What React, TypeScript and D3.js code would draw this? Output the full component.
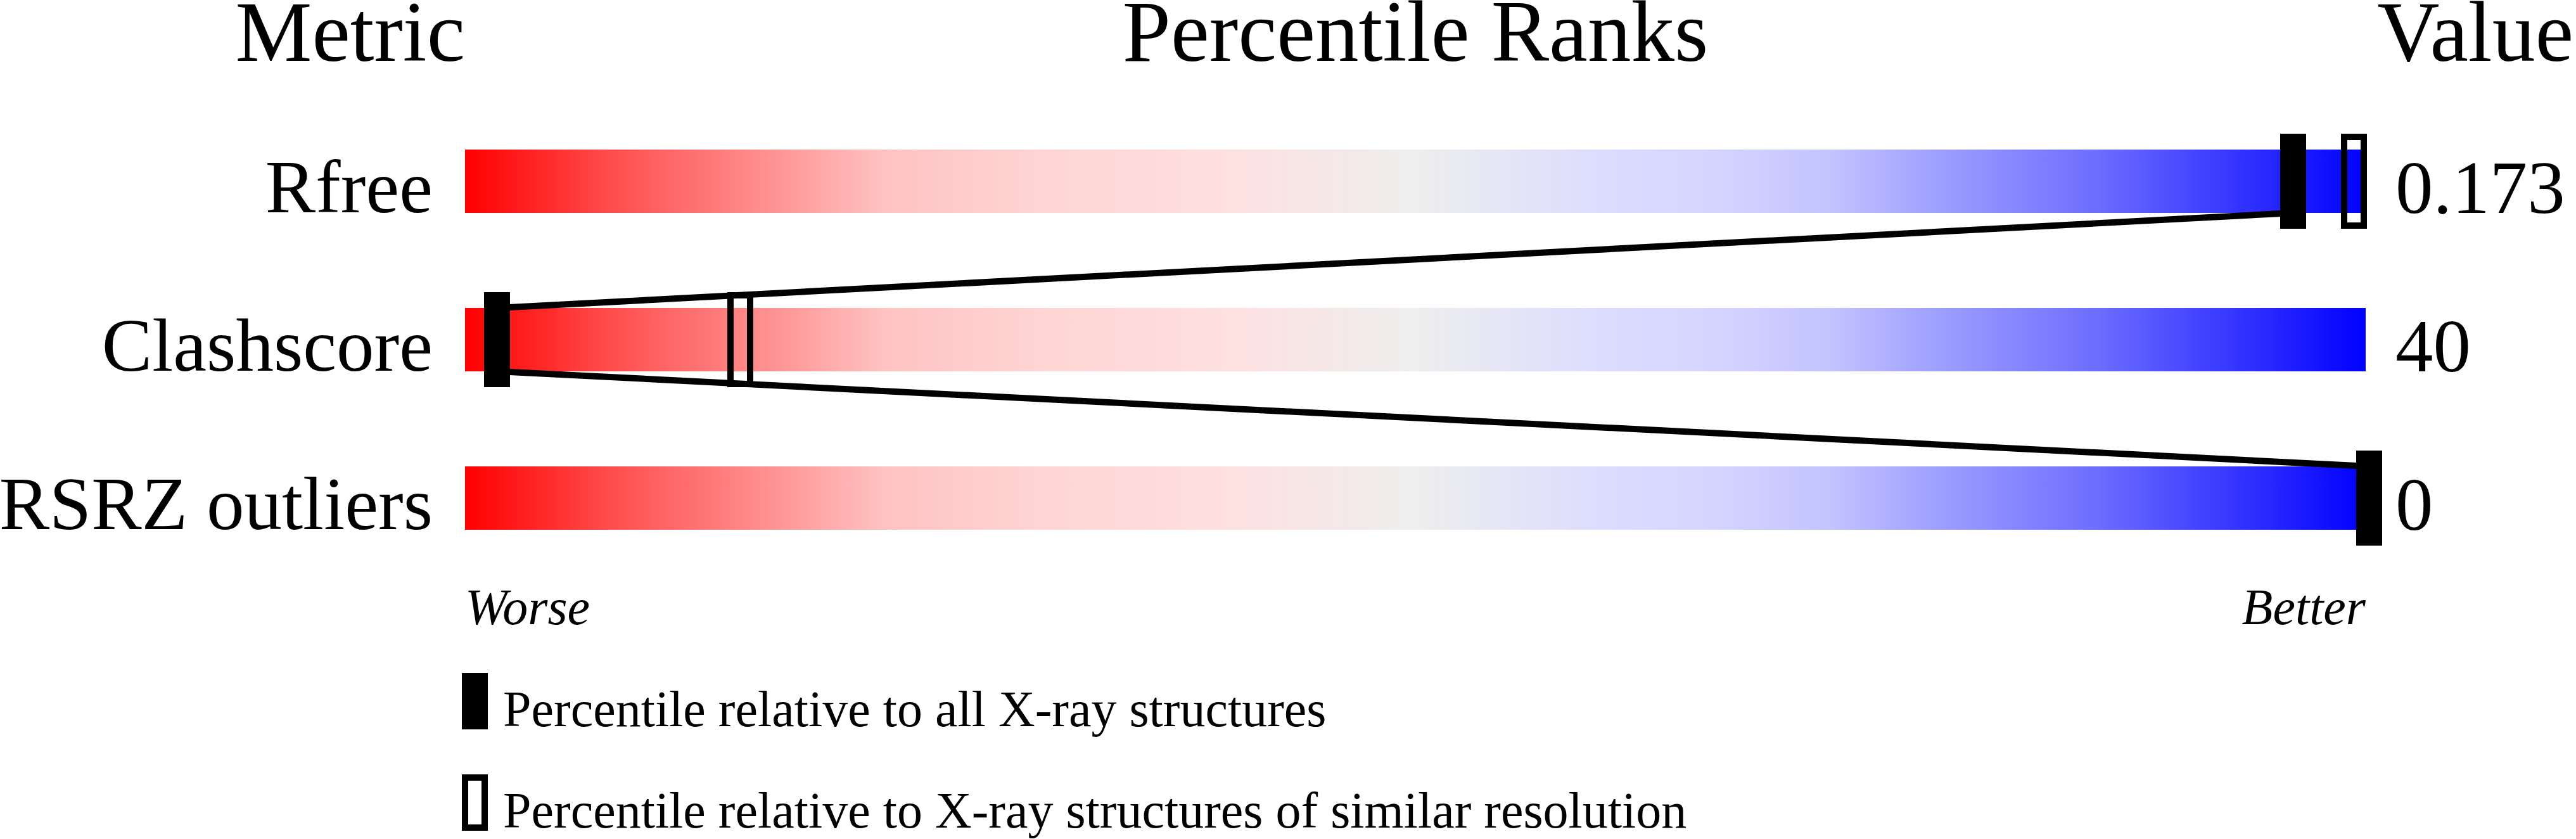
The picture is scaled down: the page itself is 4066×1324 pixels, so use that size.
import * as d3 from "d3";

// ── Data ───────────────────────────────────────────────────────────────
const metrics = ["Rfree", "Clashscore", "RSRZ outliers"];
const values = ["0.173", "40", "0"];
// percentile relative to all X-ray structures (filled marker)
const pctAll = [96, 1.5, 100];
// percentile relative to structures of similar resolution (hollow marker)
const pctSimilar = [99.2, 14.3, 100];
const legendLabels = [
  "Percentile relative to all X-ray structures",
  "Percentile relative to X-ray structures of similar resolution",
];

// gradient stops worse → better
const gradStops: [number, string][] = [
  [0, "#ff0000"],
  [0.08, "#ff5050"],
  [0.22, "#ffc2c2"],
  [0.3, "#ffd4d4"],
  [0.4, "#fee0e0"],
  [0.5, "#eeeeee"],
  [0.6, "#dcdcff"],
  [0.66, "#d4d4ff"],
  [0.72, "#c2c2ff"],
  [0.76, "#a8a8ff"],
  [0.86, "#6c6cff"],
  [1, "#0000ff"],
];

const W = 4066;
const H = 1324;
const font = "'Liberation Serif', 'Times New Roman', serif";

export default function App() {
  const x = d3.scaleLinear().domain([0, 100]).range([734, 3734]);
  const y = d3
    .scaleBand()
    .domain(metrics)
    .range([236, 836])
    .paddingInner(0.6)
    .paddingOuter(0);
  const barH = y.bandwidth();

  const mW = 41; // marker width
  const mOff = 15; // marker left edge relative to x(p)
  const mExt = 25; // marker overhang above/below bar
  const cx = (p: number) => x(p) - mOff + mW / 2;

  // polyline links between filled markers
  const links = pctAll.slice(0, -1).map((p, i) => ({
    x1: cx(p),
    y1: (y(metrics[i]) ?? 0) + barH,
    x2: cx(pctAll[i + 1]),
    y2: y(metrics[i + 1]) ?? 0,
  }));

  return (
    <svg
      width={W}
      height={H}
      style={{ position: "absolute", left: 0, top: 0, background: "#fff" }}
      fontFamily={font}
    >
      <defs>
        <linearGradient id="rank" x1="0" x2="1" y1="0" y2="0">
          {gradStops.map(([o, c]) => (
            <stop key={o} offset={o} stopColor={c} />
          ))}
        </linearGradient>
      </defs>

      {/* headers */}
      <text x={x(0)} y={96} fontSize={136} textAnchor="end">
        Metric
      </text>
      <text x={(x(0) + x(100)) / 2} y={96} fontSize={137} textAnchor="middle">
        Percentile Ranks
      </text>
      <text x={4062} y={96} fontSize={136} textAnchor="end">
        Value
      </text>

      {/* bars + labels */}
      {metrics.map((m, i) => {
        const top = y(m) ?? 0;
        return (
          <g key={m}>
            <rect
              x={x(0)}
              y={top}
              width={x(100) - x(0)}
              height={barH}
              fill="url(#rank)"
            />
            <text x={683} y={top + barH - 1} fontSize={119} textAnchor="end">
              {m}
            </text>
            <text x={3781} y={top + barH} fontSize={119}>
              {values[i]}
            </text>
          </g>
        );
      })}

      {/* links */}
      {links.map((l, i) => (
        <line
          key={i}
          x1={l.x1}
          y1={l.y1}
          x2={l.x2}
          y2={l.y2}
          stroke="#000"
          strokeWidth={10}
        />
      ))}

      {/* hollow markers */}
      {metrics.map((m, i) => (
        <rect
          key={"s" + m}
          x={x(pctSimilar[i]) - mOff + 5}
          y={(y(m) ?? 0) - mExt + 5}
          width={mW - 10}
          height={barH + 2 * mExt - 10}
          fill="none"
          stroke="#000"
          strokeWidth={10}
        />
      ))}

      {/* filled markers */}
      {metrics.map((m, i) => (
        <rect
          key={"a" + m}
          x={x(pctAll[i]) - mOff}
          y={(y(m) ?? 0) - mExt}
          width={mW}
          height={barH + 2 * mExt}
          fill="#000"
        />
      ))}

      {/* axis ends */}
      <text x={x(0)} y={985} fontSize={80} fontStyle="italic">
        Worse
      </text>
      <text x={x(100)} y={985} fontSize={80} fontStyle="italic" textAnchor="end">
        Better
      </text>

      {/* legend */}
      <rect x={729} y={1062} width={41} height={89} fill="#000" />
      <text x={794} y={1146} fontSize={80}>
        {legendLabels[0]}
      </text>
      <rect
        x={734}
        y={1227}
        width={31}
        height={79}
        fill="none"
        stroke="#000"
        strokeWidth={10}
      />
      <text x={794} y={1306} fontSize={80}>
        {legendLabels[1]}
      </text>
    </svg>
  );
}
